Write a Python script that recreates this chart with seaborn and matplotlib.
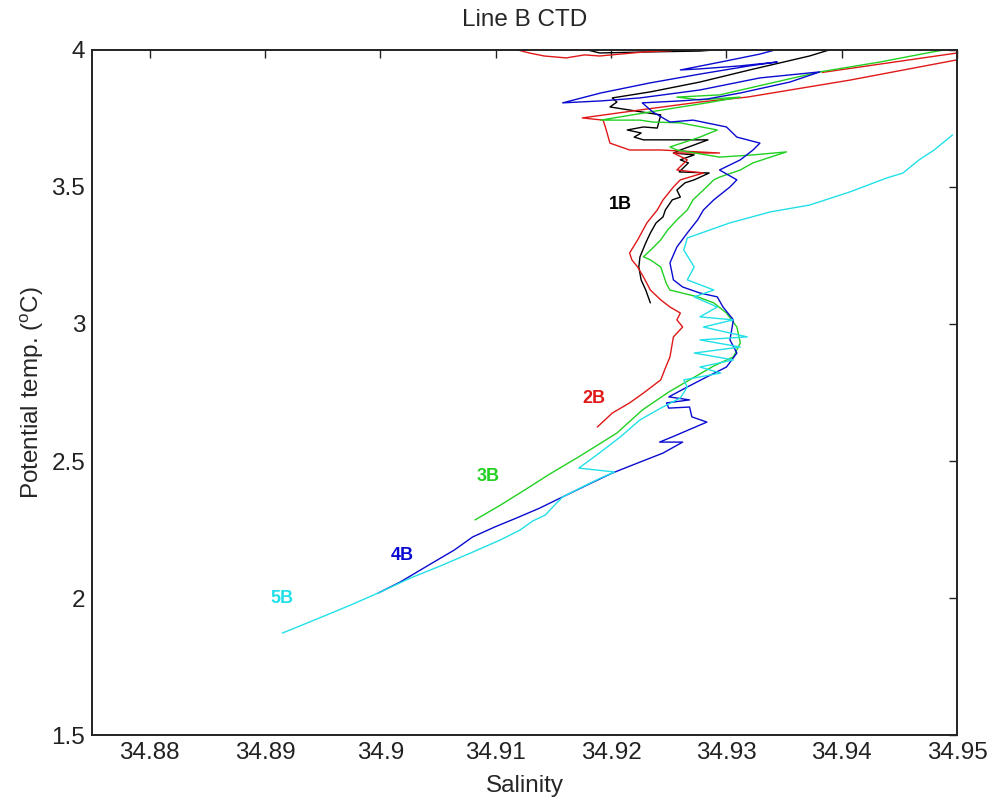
import pandas as pd
import matplotlib
matplotlib.use('Agg')
import matplotlib.pyplot as plt
import seaborn as sns

# CTD casts, Line B: salinity vs potential temperature
s_1b = [34.9234, 34.9230, 34.9226, 34.9224, 34.9225, 34.9230, 34.9234, 34.9239, 34.9245, 34.9247,
        34.9253, 34.9260, 34.9257, 34.9264, 34.9272, 34.9285, 34.9259, 34.9267, 34.9260, 34.9272,
        34.9254, 34.9260, 34.9284, 34.9228, 34.9220, 34.9226, 34.9214, 34.9228, 34.9240, 34.9243,
        34.9199, 34.9205, 34.9201, 34.9234, 34.9277, 34.9320, 34.9372, 34.9389, 34.9345, 34.9277,
        34.9234, 34.9190, 34.9170]
t_1b = [3.077, 3.124, 3.161, 3.208, 3.245, 3.296, 3.332, 3.369, 3.391, 3.416,
        3.453, 3.463, 3.489, 3.515, 3.526, 3.551, 3.555, 3.588, 3.599, 3.617,
        3.624, 3.635, 3.672, 3.672, 3.682, 3.697, 3.708, 3.719, 3.715, 3.763,
        3.792, 3.810, 3.825, 3.847, 3.883, 3.927, 3.978, 4.000, 4.018, 3.996,
        3.993, 3.989, 4.010]

s_2b = [34.9188, 34.9201, 34.9216, 34.9228, 34.9243, 34.9247, 34.9251, 34.9254, 34.9262, 34.9257,
        34.9260, 34.9251, 34.9243, 34.9234, 34.9228, 34.9223, 34.9218, 34.9216, 34.9223, 34.9231,
        34.9240, 34.9245, 34.9254, 34.9260, 34.9280, 34.9257, 34.9266, 34.9254, 34.9294, 34.9243,
        34.9216, 34.9199, 34.9195, 34.9193, 34.9175, 34.9225, 34.9277, 34.9318, 34.9407, 34.9500,
        34.9540, 34.9540, 34.9500, 34.9383]
t_2b = [2.624, 2.675, 2.712, 2.748, 2.796, 2.839, 2.880, 2.953, 2.989, 3.015,
        3.040, 3.062, 3.088, 3.124, 3.172, 3.208, 3.234, 3.259, 3.307, 3.369,
        3.416, 3.453, 3.500, 3.526, 3.551, 3.562, 3.599, 3.624, 3.624, 3.635,
        3.635, 3.660, 3.719, 3.744, 3.752, 3.781, 3.810, 3.828, 3.890, 3.964,
        3.960, 3.985, 3.989, 3.918]
s_2b_top = [34.9110, 34.9129, 34.9142, 34.9161, 34.9177, 34.9190, 34.9208, 34.9229, 34.9251, 34.9270]
t_2b_top = [4.010, 3.989, 3.978, 3.971, 3.982, 3.978, 3.985, 3.993, 3.997, 4.010]

s_3b = [34.9082, 34.9104, 34.9125, 34.9147, 34.9173, 34.9205, 34.9227, 34.9250, 34.9268, 34.9289,
        34.9306, 34.9312, 34.9309, 34.9300, 34.9289, 34.9275, 34.9251, 34.9248, 34.9243, 34.9234,
        34.9228, 34.9237, 34.9243, 34.9249, 34.9257, 34.9266, 34.9271, 34.9280, 34.9289, 34.9294,
        34.9312, 34.9323, 34.9352, 34.9323, 34.9294, 34.9257, 34.9251, 34.9277, 34.9292, 34.9260,
        34.9236, 34.9225, 34.9191, 34.9234, 34.9283, 34.9312, 34.9277, 34.9257, 34.9294, 34.9381,
        34.9433, 34.9479, 34.9489]
t_3b = [2.285, 2.339, 2.394, 2.453, 2.518, 2.602, 2.686, 2.752, 2.796, 2.847,
        2.880, 2.931, 2.989, 3.040, 3.077, 3.099, 3.124, 3.146, 3.208, 3.234,
        3.245, 3.281, 3.307, 3.343, 3.380, 3.416, 3.453, 3.489, 3.526, 3.536,
        3.562, 3.588, 3.628, 3.617, 3.609, 3.635, 3.646, 3.682, 3.708, 3.734,
        3.737, 3.744, 3.744, 3.774, 3.807, 3.828, 3.818, 3.828, 3.836, 3.920,
        3.956, 3.993, 4.000]

s_4b = [34.8998, 34.9017, 34.9045, 34.9064, 34.9080, 34.9099, 34.9118, 34.9138, 34.9158, 34.9181,
        34.9201, 34.9225, 34.9245, 34.9262, 34.9242, 34.9253, 34.9283, 34.9270, 34.9268, 34.9250,
        34.9248, 34.9268, 34.9250, 34.9266, 34.9283, 34.9300, 34.9309, 34.9303, 34.9306, 34.9297,
        34.9292, 34.9277, 34.9262, 34.9254, 34.9251, 34.9257, 34.9266, 34.9275, 34.9280, 34.9289,
        34.9303, 34.9309, 34.9294, 34.9312, 34.9323, 34.9329, 34.9309, 34.9300, 34.9271, 34.9251,
        34.9236, 34.9227, 34.9260, 34.9283, 34.9312, 34.9355, 34.9381, 34.9329, 34.9277, 34.9225,
        34.9191, 34.9158, 34.9191, 34.9234, 34.9277, 34.9320, 34.9344, 34.9312, 34.9277, 34.9260,
        34.9295, 34.9329, 34.9342]
t_4b = [2.018, 2.058, 2.128, 2.175, 2.223, 2.259, 2.292, 2.328, 2.369, 2.416,
        2.456, 2.496, 2.529, 2.569, 2.569, 2.588, 2.642, 2.661, 2.697, 2.693,
        2.712, 2.723, 2.734, 2.770, 2.807, 2.843, 2.894, 2.942, 3.015, 3.062,
        3.099, 3.113, 3.135, 3.161, 3.223, 3.281, 3.332, 3.380, 3.416, 3.453,
        3.500, 3.526, 3.562, 3.599, 3.635, 3.660, 3.682, 3.719, 3.744, 3.737,
        3.774, 3.807, 3.814, 3.821, 3.843, 3.883, 3.920, 3.898, 3.854, 3.825,
        3.814, 3.807, 3.843, 3.880, 3.912, 3.942, 3.956, 3.942, 3.931, 3.927,
        3.956, 3.985, 4.000]

s_5b = [34.8915, 34.8947, 34.8974, 34.9000, 34.9026, 34.9052, 34.9078, 34.9104, 34.9121, 34.9132,
        34.9143, 34.9151, 34.9158, 34.9173, 34.9191, 34.9203, 34.9172, 34.9191, 34.9208, 34.9225,
        34.9243, 34.9260, 34.9266, 34.9263, 34.9295, 34.9277, 34.9306, 34.9272, 34.9312, 34.9277,
        34.9318, 34.9280, 34.9306, 34.9277, 34.9292, 34.9272, 34.9289, 34.9266, 34.9272, 34.9263,
        34.9266, 34.9303, 34.9338, 34.9372, 34.9407, 34.9439, 34.9453, 34.9467, 34.9480, 34.9496]
t_5b = [1.872, 1.927, 1.974, 2.022, 2.073, 2.117, 2.164, 2.212, 2.248, 2.281,
        2.303, 2.339, 2.369, 2.401, 2.438, 2.460, 2.474, 2.533, 2.588, 2.650,
        2.693, 2.730, 2.770, 2.796, 2.821, 2.843, 2.869, 2.894, 2.916, 2.942,
        2.953, 2.989, 3.015, 3.026, 3.062, 3.099, 3.124, 3.161, 3.208, 3.270,
        3.314, 3.369, 3.409, 3.434, 3.482, 3.533, 3.551, 3.599, 3.635, 3.690]

casts = ['1B', '2B', '3B', '4B', '5B']
cast_colors = ['black', '#e01818', '#22d022', '#0a0ad0', '#22e0e8']
label_s = [34.9208, 34.9185, 34.9093, 34.9019, 34.8915]
label_t = [3.435, 2.728, 2.443, 2.155, 2.000]

sns.set_theme(style='white')
plt.rcParams['font.family'] = ['Liberation Sans', 'DejaVu Sans']
plt.rcParams['mathtext.default'] = 'regular'

fig = plt.figure(figsize=(9.95, 8.02), dpi=100)
ax = fig.add_axes([0.0925, 0.0835, 0.8695, 0.8542])

segments = [
    (s_1b, t_1b, 'black'),
    (s_2b, t_2b, '#e01818'),
    (s_2b_top, t_2b_top, '#e01818'),
    (s_3b, t_3b, '#22d022'),
    (s_4b, t_4b, '#0a0ad0'),
    (s_5b, t_5b, '#22e0e8'),
]
for s, t, c in segments:
    sns.lineplot(x=s, y=t, sort=False, estimator=None, color=c, lw=1.0, ax=ax)

for name, c, xs, yt in zip(casts, cast_colors, label_s, label_t):
    ax.text(xs, yt, name, color=c, fontsize=13, fontweight='bold', ha='center', va='center')

ax.set_xlim(34.875, 34.95)
ax.set_ylim(1.5, 4)
xt = [34.88, 34.89, 34.90, 34.91, 34.92, 34.93, 34.94, 34.95]
ax.set_xticks(xt)
ax.set_xticklabels(['%g' % v for v in xt])
yt = [1.5, 2, 2.5, 3, 3.5, 4]
ax.set_yticks(yt)
ax.set_yticklabels(['%g' % v for v in yt])
ax.tick_params(direction='in', top=True, right=True, length=6, width=1, labelsize=17.5, colors='#222222', pad=5)
for sp in ax.spines.values():
    sp.set_color('#222222')
    sp.set_linewidth(1.4)

ax.set_xlabel('Salinity', fontsize=17.5, labelpad=8)
ax.set_ylabel('Potential temp. ($^o$C)', fontsize=17.5, labelpad=4)
ax.set_title('Line B CTD', fontsize=17.5, pad=17)

fig.savefig('out.png', dpi=100)
